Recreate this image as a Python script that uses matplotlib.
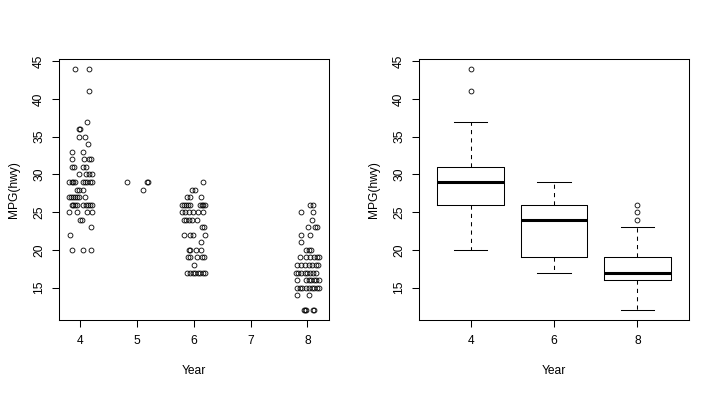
import matplotlib
matplotlib.use("Agg")
import matplotlib.pyplot as plt

plt.rcParams['font.family'] = ['Liberation Sans', 'DejaVu Sans']

# ---- data: jittered cylinder value (x) and highway MPG (y) ----
cyl4_x = [3.91, 4.16, 4.15, 4.12, 3.99, 4.00, 3.98, 4.08, 4.14, 3.86, 4.06, 3.86, 4.07, 4.16, 4.19,
          3.86, 3.89, 4.06, 4.10, 3.98, 4.11, 4.16, 4.21, 3.81, 3.85, 3.88, 3.92, 4.06, 4.09, 4.13,
          4.18, 4.21, 3.94, 3.98, 4.06, 3.80, 3.84, 3.87, 3.91, 3.94, 3.98, 4.09, 3.85, 3.88, 3.92,
          3.95, 4.06, 4.11, 4.14, 4.18, 4.21, 3.80, 3.94, 4.12, 4.21, 4.00, 4.04, 4.19, 3.82, 3.85,
          4.06, 4.20]
cyl4_hwy = [44, 44, 41, 37, 36, 36, 35, 35, 34, 33, 33, 32, 32, 32, 32,
            31, 31, 31, 31, 30, 30, 30, 30, 29, 29, 29, 29, 29, 29, 29,
            29, 29, 28, 28, 28, 27, 27, 27, 27, 27, 27, 27, 26, 26, 26,
            26, 26, 26, 26, 26, 26, 25, 25, 25, 25, 24, 24, 23, 22, 20,
            20, 20]

cyl5_x = [4.82, 5.17, 5.20, 5.11]
cyl5_hwy = [29, 29, 29, 28]

cyl6_x = [6.17, 5.97, 6.02, 5.88, 5.93, 6.12,
          5.79, 5.83, 5.86, 5.90, 5.93, 6.11, 6.14, 6.17, 6.20,
          5.80, 5.85, 5.91, 5.99, 6.07, 6.16,
          5.83, 5.86, 5.91, 5.97, 6.05,
          6.14, 6.18,
          5.83, 5.94, 5.99, 6.20,
          6.12,
          5.91, 5.94, 6.04, 6.13,
          5.90, 5.93, 6.06, 6.14, 6.18,
          6.00,
          5.89, 5.93, 5.98, 6.03, 6.07, 6.11, 6.16, 6.20]
cyl6_hwy = [29, 28, 28, 27, 27, 27,
            26, 26, 26, 26, 26, 26, 26, 26, 26,
            25, 25, 25, 25, 25, 25,
            24, 24, 24, 24, 24,
            23, 23,
            22, 22, 22, 22,
            21,
            20, 20, 20, 20,
            19, 19, 19, 19, 19,
            18,
            17, 17, 17, 17, 17, 17, 17, 17]

cyl8_x = [8.05, 8.09, 7.89, 8.09, 8.08, 8.01, 8.14, 8.17, 7.88, 8.04, 7.89,
          7.97, 8.02, 8.07,
          7.87, 7.97, 8.04, 8.12, 8.17, 8.20,
          7.82, 7.89, 7.95, 8.03, 8.08, 8.16, 8.19,
          7.80, 7.84, 7.88, 7.95, 7.99, 8.04, 8.10, 8.15,
          7.82, 7.97, 8.02, 8.07, 8.11, 8.16, 8.20,
          7.82, 7.87, 7.91, 7.97, 8.02, 8.08, 8.12, 8.17, 8.20,
          7.81, 8.02,
          7.94, 7.96, 7.98, 8.09, 8.12]
cyl8_hwy = [26, 26, 25, 25, 24, 23, 23, 23, 22, 22, 21,
            20, 20, 20,
            19, 19, 19, 19, 19, 19,
            18, 18, 18, 18, 18, 18, 18,
            17, 17, 17, 17, 17, 17, 17, 17,
            16, 16, 16, 16, 16, 16, 16,
            15, 15, 15, 15, 15, 15, 15, 15, 15,
            14, 14,
            12, 12, 12, 12, 12]

# ---- boxplot summary (cyl 4, 6, 8) ----
box_labels = ['4', '6', '8']
box_whislo = [20, 17, 12]
box_q1 = [26, 19, 16]
box_med = [29, 24, 17]
box_q3 = [31, 26, 19]
box_whishi = [37, 29, 23]
box_fliers = [[41, 44], [], [24, 25, 26]]

scatter_xticks = [4, 5, 6, 7, 8]
yticks = [15, 20, 25, 30, 35, 40, 45]

FS = 8.64
LW = 0.75

fig = plt.figure(figsize=(7.2, 3.94), dpi=100)
W, H = 720, 394
ax1 = fig.add_axes([59 / W, (H - 320) / H, 270 / W, 261 / H])
ax2 = fig.add_axes([419 / W, (H - 320) / H, 270 / W, 261 / H])

mk = dict(linestyle='none', marker='o', mfc='none', mec='black', ms=3.5, mew=0.6)
for xs, ys in [(cyl4_x, cyl4_hwy), (cyl5_x, cyl5_hwy), (cyl6_x, cyl6_hwy), (cyl8_x, cyl8_hwy)]:
    ax1.plot(xs, ys, **mk)
ax1.set_xlim(3.63, 8.38)
ax1.set_xticks(scatter_xticks)

stats = []
for i in range(len(box_labels)):
    stats.append(dict(label=box_labels[i], whislo=box_whislo[i], q1=box_q1[i], med=box_med[i],
                      q3=box_q3[i], whishi=box_whishi[i], fliers=box_fliers[i]))
ax2.bxp(stats, positions=[1, 2, 3], widths=0.8, showfliers=True,
        boxprops=dict(color='black', linewidth=LW),
        medianprops=dict(color='black', linewidth=2.2, solid_capstyle='butt'),
        whiskerprops=dict(color='black', linewidth=LW, linestyle=(0, (4, 4))),
        capprops=dict(color='black', linewidth=LW),
        capwidths=0.4,
        flierprops=dict(marker='o', mfc='none', mec='black', ms=3.5, mew=0.6, linestyle='none'))
ax2.set_xlim(0.38, 3.62)

for ax in (ax1, ax2):
    ax.set_ylim(10.72, 45.28)
    ax.set_yticks(yticks)
    for s in ax.spines.values():
        s.set_linewidth(LW)
        s.set_color('black')
    ax.tick_params(axis='both', length=5, width=LW, labelsize=FS, colors='black')
    ax.tick_params(axis='x', pad=6)
    ax.tick_params(axis='y', pad=5)
    for t in ax.get_yticklabels():
        t.set_rotation(90)
        t.set_va('center')
    ax.set_xlabel('Year', fontsize=FS)
    ax.set_ylabel('MPG(hwy)', fontsize=FS)
    ax.xaxis.set_label_coords(0.5, -51 / 261)
    ax.xaxis.label.set_va('center')
    ax.yaxis.set_label_coords(-45 / 270, 0.5)
    ax.yaxis.label.set_va('center')

fig.savefig('out.png', dpi=100, facecolor='white')
